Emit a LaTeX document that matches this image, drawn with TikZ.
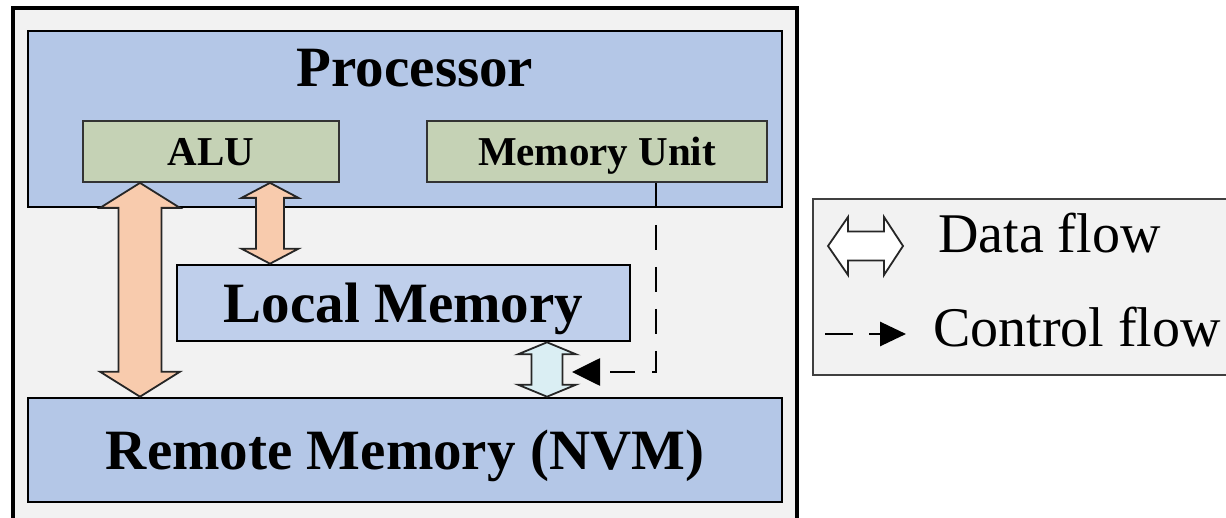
\documentclass[tikz,border=0pt]{standalone}
\usepackage{fontspec}
\setmainfont{Liberation Serif}
\usetikzlibrary{arrows.meta,calc}

\definecolor{procblue}{HTML}{B4C7E7}
\definecolor{localblue}{HTML}{BFCFEB}
\definecolor{unitgreen}{HTML}{C5D2B5}
\definecolor{flowpeach}{HTML}{F8CBAD}
\definecolor{flowcyan}{HTML}{DAEEF3}
\definecolor{panelgray}{HTML}{F2F2F2}

\tikzset{
  blockbox/.style={draw=black, line width=2.6pt, fill=procblue, inner sep=0pt,
    text depth=0pt, font=\fontsize{57}{60}\selectfont\bfseries},
  unitbox/.style={draw=black!80, line width=1.8pt, fill=unitgreen, inner sep=0pt,
    text depth=0pt, font=\fontsize{41}{44}\selectfont\bfseries},
  legtext/.style={font=\fontsize{56}{60}\selectfont, anchor=base west, inner sep=0pt},
  dataflow/.style={draw=black!85, line width=1.8pt, line join=miter},
  ctrlflow/.style={line width=2.8pt, dash pattern=on 25pt off 17pt,
    -{Triangle[length=28pt,width=27pt]}},
}

% vertical two-headed block arrow: style, top tip, bottom tip, shaft half, head half, head length
\newcommand{\vblockarrow}[6]{%
  \draw[#1] let \p1=(#2), \p2=(#3) in
    (\x1,\y1) -- (\x1+#5,\y1-#6) -- (\x1+#4,\y1-#6) -- (\x1+#4,\y2+#6)
    -- (\x1+#5,\y2+#6) -- (\x2,\y2) -- (\x1-#5,\y2+#6) -- (\x1-#4,\y2+#6)
    -- (\x1-#4,\y1-#6) -- (\x1-#5,\y1-#6) -- cycle;}

\begin{document}
\begin{tikzpicture}[x=1pt,y=-1pt]
    \useasboundingbox (0,0) rectangle (1226,518);
    \clip (0,0) rectangle (1226,518);
    %\draw[lightgray] (0,0) grid[step=50] (1226,518);

    % frame and legend panel
    \draw[line width=3.2pt, fill=panelgray] (13,8) rectangle (797,540);
    \draw[line width=1.4pt, draw=black!75, fill=panelgray] (813,199) rectangle (1240,375);

    % processor
    \node[blockbox, minimum width=754, minimum height=176] (proc) at (405,119) {};
    \node[font=\fontsize{57}{60}\selectfont\bfseries, anchor=base, inner sep=0pt] (proctitle) at (415,87) {Processor};
    \node[unitbox, minimum width=256, minimum height=61] (alu) at (211,151.5) {ALU};
    \node[unitbox, minimum width=340, minimum height=61] (mu) at (597,151.5) {Memory Unit};

    % memories
    \node[blockbox, fill=localblue, minimum width=453, minimum height=76] (local) at (403.5,303) {Local Memory};
    \node[blockbox, minimum width=754, minimum height=104] (remote) at (405,450) {Remote Memory (NVM)};

    % data flow
    \vblockarrow{dataflow, fill=flowpeach}{140,0 |- alu.south}{140,0 |- remote.north}{21.5pt}{40pt}{25pt}
    \vblockarrow{dataflow, fill=flowpeach}{270,0 |- alu.south}{270,0 |- local.north}{14pt}{28.5pt}{15pt}
    \vblockarrow{dataflow, fill=flowcyan}{547,0 |- local.south}{547,0 |- remote.north}{15.5pt}{29pt}{12pt}

    % control flow
    \coordinate (ctrlend) at (572,372);
    \draw[ctrlflow] (656,0 |- mu.south) |- (ctrlend);

    % legend
    \draw[dataflow, fill=white] (828,246) -- (848,217) -- (848,231.5) -- (884,231.5) -- (884,217)
        -- (903,246) -- (884,275) -- (884,260.5) -- (848,260.5) -- (848,275) -- cycle;
    \node[legtext] (datatext) at (938,253) {Data flow};
    \draw[ctrlflow, dash pattern=on 28pt off 16pt, -{Triangle[length=26pt,width=24pt]}] (825,334) -- (906,334);
    \node[legtext] (ctrltext) at (933,347) {Control flow};
\end{tikzpicture}
\end{document}
